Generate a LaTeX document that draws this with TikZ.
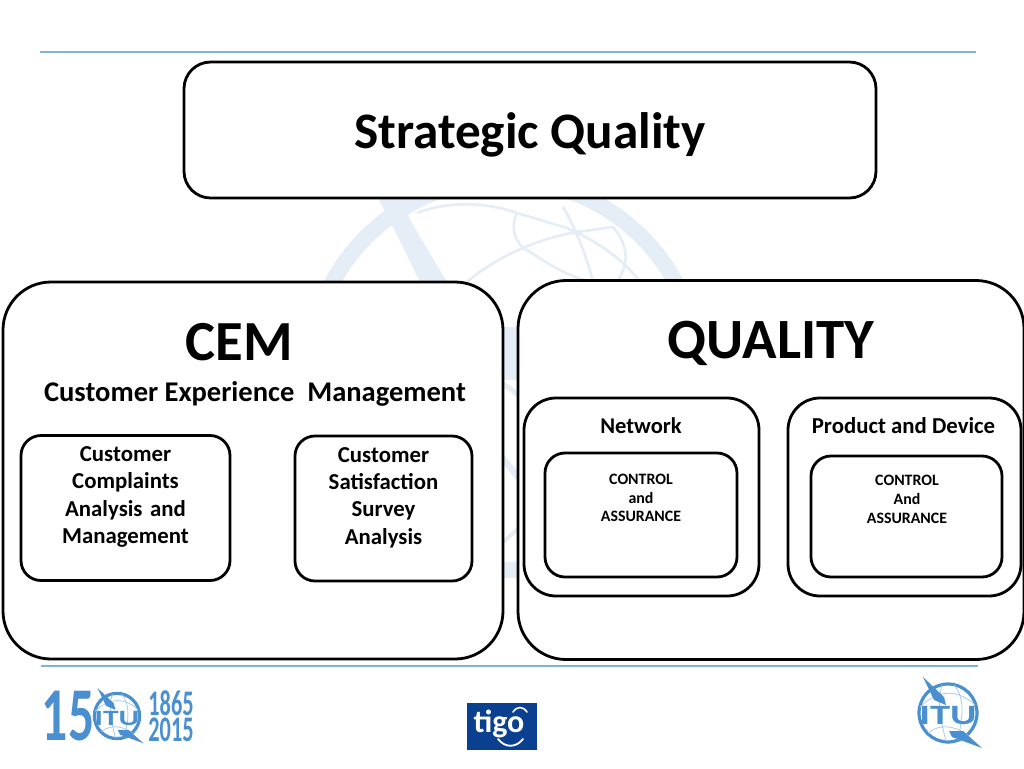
\documentclass[tikz,border=0pt]{standalone}
\usepackage{fontspec}
\setmainfont{Carlito}
\definecolor{rulecol}{HTML}{7FB5D3}
\definecolor{itublue}{HTML}{4A8FCF}
\definecolor{itulight}{HTML}{A9CBE8}
\definecolor{wm}{HTML}{E5EDF6}
\definecolor{tigoblue}{HTML}{0B3F8F}
\tikzset{
 wh/.style 2 args={minimum width=#1*0.75pt,minimum height=#2*0.75pt},
 box/.style={draw=black,line width=2.1pt,fill=white,anchor=north west,inner sep=0pt,outer sep=0pt},
 bigbox/.style={box,rounded corners=36pt},
 midbox/.style={box,rounded corners=24pt},
 smallbox/.style={box,rounded corners=15pt},
 label/.style={align=center,text=black,inner sep=0pt},
 base/.style={label,anchor=base},
 fs/.style 2 args={font=\bfseries\fontsize{#1}{#2}\selectfont},
 hrule/.style={draw=rulecol,line width=1.3pt},
 wmline/.style={draw=wm,line width=2pt},
 logo/.style={text=itublue,inner sep=0pt,transform shape},
 itu/.pic={
  \draw[itublue,line width=2.4pt] (0,0) circle (29);
  \draw[itulight,line width=.6pt] (-28,-6) .. controls (-10,-24) and (10,-24) .. (27,-8);
  \draw[itulight,line width=.6pt] (-20,20) .. controls (-5,8) and (12,16) .. (20,22);
  \draw[itulight,line width=.6pt] (-6,-28) .. controls (-12,-8) and (-6,12) .. (-2,28);
  \draw[itulight,line width=.6pt] (6,-28) .. controls (18,-14) and (14,6) .. (10,27);
  \fill[itublue] (-25,-36) -- (-4,-16) -- (-2,-8) -- (-14,-13) -- cycle;
  \fill[itublue] (34,35) -- (4,24) -- (1,18) -- (15,18) -- cycle;
  \node[logo,font=\bfseries\fontsize{21}{21}\selectfont,xscale=1.45,anchor=center] (t) at (0,3) {ITU};
 }
}
\begin{document}
\begin{tikzpicture}[x=0.75pt,y=-0.75pt]
\useasboundingbox (0,0) rectangle (1024,768);
\fill[white] (0,0) rectangle (1024,768);
% watermark globe
\draw[wm,line width=12pt] (504,375) circle (195);
\fill[wm] (378,198) -- (402,198) -- (410,220) -- (447,282) -- (420,282) -- (393,227) -- cycle;
\draw[wmline] (417,213) .. controls (450,200) and (490,203) .. (517,213) -- (567,228) .. controls (590,238) and (620,255) .. (640,282);
\draw[wmline] (467,282) .. controls (490,262) and (530,240) .. (577,232) -- (613,227);
\draw[wmline] (517,213) .. controls (508,232) and (520,248) .. (527,250) .. controls (545,262) and (570,278) .. (593,282);
\draw[wmline] (563,207) .. controls (572,222) and (585,250) .. (593,282);
\draw[wmline] (613,227) .. controls (628,245) and (630,262) .. (617,282);
\fill[wm] (500,327) -- (522,327) -- (522,380) -- (500,380) -- cycle;
\draw[wm,line width=4pt] (500,382) -- (522,397);
\draw[wm,line width=5pt] (500,455) -- (522,482);
\draw[wm,line width=3pt] (500,545) -- (522,525);
% rules
\coordinate (rt1) at (40,52); \coordinate (rt2) at (976,52);
\coordinate (rb1) at (41,666); \coordinate (rb2) at (978,666);
\draw[hrule] (rt1) -- (rt2);
\draw[hrule] (rb1) -- (rb2);
% boxes
\node[box,rounded corners=20pt,wh={692}{136}] (strategic) at (184,62) {};
\node[base,fs={38.4}{40}] (strategictxt) at (530,148) {Strategic Quality};
\node[bigbox,wh={500}{377}] (cem) at (3,282) {};
\node[bigbox,wh={506}{379}] (quality) at (518,280.5) {};
\node[base,fs={42.5}{44}] (cemtxt) at (239,360) {CEM};
\node[base,fs={21.4}{24}] (cemsub) at (255,401) {Customer Experience\ \ Management};
\node[base,fs={42.7}{44}] (qualtxt) at (771,358) {QUALITY};
\node[smallbox,wh={209}{145}] (complaints) at (21,435.5) {};
\node[label,fs={17.1}{20.5},text width=190*0.75pt] (complaintstxt) at (125.5,497) {Customer\\Complaints\\Analysis and\\Management};
\node[smallbox,wh={177}{145}] (survey) at (295,436) {};
\node[label,fs={17.1}{20.5},text width=170*0.75pt] (surveytxt) at (383.5,497.5) {Customer\\Satisfaction\\Survey\\Analysis};
\node[midbox,wh={235}{198}] (network) at (524,398) {};
\node[base,fs={16.9}{20}] (networktxt) at (641,433.5) {Network};
\node[smallbox,wh={192}{124}] (netctl) at (545,453) {};
\node[label,fs={11.9}{14},text width=150*0.75pt] (netctltxt) at (641,498) {CONTROL\\and\\ASSURANCE};
\node[midbox,wh={233}{198}] (product) at (788,398) {};
\node[base,fs={17.1}{20}] (producttxt) at (903.5,433.5) {Product and Device};
\node[smallbox,wh={191}{121}] (prodctl) at (811,456) {};
\node[label,fs={11.9}{14},text width=150*0.75pt] (prodctltxt) at (907,499.5) {CONTROL\\And\\ASSURANCE};
% logos
\node[logo,fs={57}{57},xscale=.68,anchor=center] (l15) at (68,716) {15};
\fill[white] (117,716) circle (23);
\pic[scale=.78] (leftitu) at (117,716) {itu};
\node[logo,font=\bfseries\fontsize{27}{19.5}\selectfont,align=center,xscale=.62,anchor=center] (lyears) at (171,716) {1865\\2015};
\node[fill=tigoblue,inner sep=0pt,outer sep=0pt,wh={70}{47},anchor=north west] (tigo) at (467,703) {};
\node[anchor=base,text=white,inner sep=0pt,fs={24}{24}] (tigotxt) at (499,732) {tigo};
\draw[white,line width=1.4pt,line cap=round] (498,739) .. controls (505,748) and (516,748) .. (523,739);
\draw[white,line width=1.2pt,line cap=round] (513,712) .. controls (517,706) and (523,706) .. (527,712);
\pic (rightitu) at (948,713) {itu};
\end{tikzpicture}
\end{document}
